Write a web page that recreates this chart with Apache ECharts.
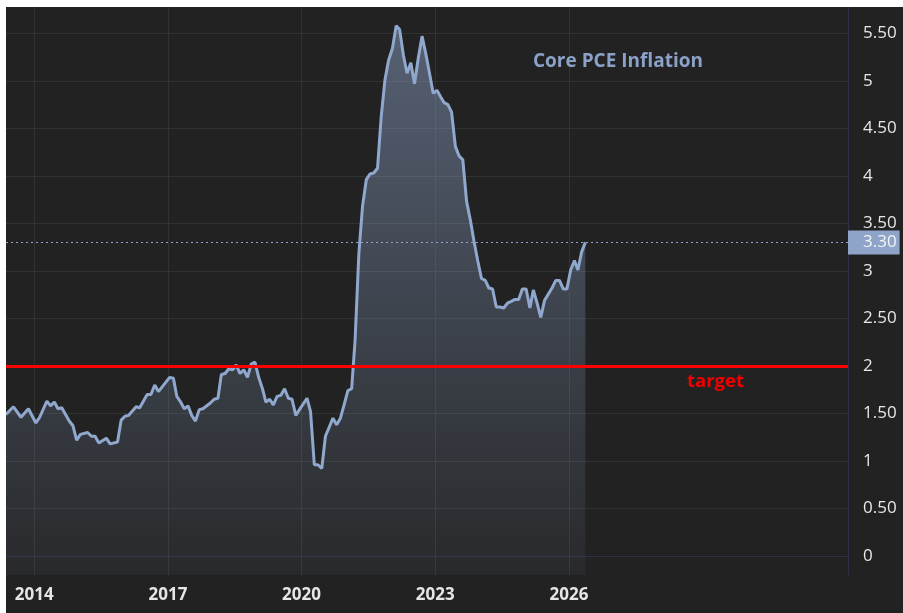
<!DOCTYPE html>
<html><head><meta charset="utf-8">
<script src="https://cdn.jsdelivr.net/npm/echarts@6/dist/echarts.min.js"></script>
<style>
html,body{margin:0;padding:0;background:#ffffff;}
#c{position:absolute;left:6px;top:7px;width:897px;height:606px;background:#222222;}
</style></head><body><div id="c"></div>
<script>
const months = [
'2013-05','2013-07','2013-09','2013-11','2014-01','2014-02','2014-04','2014-05','2014-06','2014-07','2014-08','2014-10','2014-11','2014-12',
'2015-01','2015-03','2015-04','2015-05','2015-06','2015-08','2015-09','2015-11','2015-12',
'2016-01','2016-02','2016-04','2016-05','2016-07','2016-08','2016-09','2016-10','2016-11',
'2017-01','2017-02','2017-03','2017-04','2017-05','2017-06','2017-07','2017-08','2017-09','2017-10','2017-12',
'2018-01','2018-02','2018-03','2018-04','2018-05','2018-06','2018-07','2018-08','2018-09','2018-10','2018-11','2018-12',
'2019-01','2019-02','2019-03','2019-04','2019-05','2019-06','2019-07','2019-08','2019-09','2019-10','2019-11','2019-12',
'2020-02','2020-03','2020-04','2020-05','2020-06','2020-07','2020-09','2020-10','2020-11','2020-12',
'2021-01','2021-02','2021-03','2021-04','2021-05','2021-06','2021-07','2021-08','2021-09','2021-10','2021-11','2021-12',
'2022-01','2022-02','2022-03','2022-04','2022-05','2022-06','2022-07','2022-08','2022-09','2022-10','2022-11','2022-12',
'2023-01','2023-02','2023-03','2023-04','2023-05','2023-06','2023-07','2023-08','2023-09','2023-10','2023-11','2023-12',
'2024-01','2024-02','2024-03','2024-04','2024-05','2024-06','2024-07','2024-08','2024-09','2024-10','2024-11','2024-12',
'2025-01','2025-02','2025-03','2025-04','2025-05','2025-06','2025-08','2025-09','2025-10','2025-11','2025-12',
'2026-01','2026-02','2026-03','2026-04','2026-05'
];
const values = [
1.49,1.57,1.46,1.55,1.40,1.46,1.63,1.58,1.62,1.55,1.56,1.42,1.37,1.22,
1.28,1.30,1.26,1.26,1.19,1.24,1.18,1.20,1.43,
1.47,1.48,1.57,1.56,1.70,1.70,1.80,1.73,1.78,
1.88,1.87,1.68,1.62,1.55,1.58,1.48,1.42,1.54,1.55,1.61,
1.65,1.66,1.91,1.92,1.97,1.96,2.01,1.92,1.96,1.88,2.02,2.04,
1.88,1.76,1.62,1.65,1.59,1.68,1.69,1.76,1.66,1.65,1.48,1.54,
1.66,1.52,0.96,0.96,0.92,1.26,1.45,1.38,1.45,1.59,
1.74,1.76,2.27,3.18,3.68,3.96,4.02,4.03,4.08,4.62,5.01,5.22,
5.34,5.58,5.54,5.27,5.08,5.19,4.97,5.24,5.47,5.29,5.08,4.87,
4.90,4.83,4.77,4.75,4.67,4.31,4.21,4.17,3.73,3.54,3.31,3.11,
2.92,2.90,2.82,2.81,2.62,2.62,2.61,2.66,2.68,2.70,2.70,2.81,
2.81,2.61,2.80,2.66,2.51,2.69,2.82,2.90,2.90,2.81,2.81,
3.01,3.11,3.01,3.20,3.30
];
const yTicks = [0,0.5,1,1.5,2,2.5,3,3.5,4,4.5,5,5.5];
const xTickYears = [2014,2017,2020,2023,2026];
const targetValue = 2;
const targetLabel = 'target';
const titleText = 'Core PCE Inflation';

const FONT = 'Open Sans';
const ts = (y, m, d) => new Date(y, m, d).getTime();
const xTicks = xTickYears.map(y => ts(y, 0, 1));
const seriesData = months.map((s, i) => {
  const [y, m] = s.split('-').map(Number);
  return [ts(y, m - 1, 15), values[i]];
});
const lastValue = values[values.length - 1];

const chart = echarts.init(document.getElementById('c'));
chart.setOption({
  backgroundColor: '#222222',
  animation: false,
  title: {
    text: titleText, left: 527, top: 45, padding: 0,
    textStyle: {color: '#8ba1c7', fontSize: 19, fontWeight: 'bold', fontFamily: FONT}
  },
  grid: {left: 0, top: 0, right: 55, bottom: 38},
  xAxis: {
    type: 'value',
    min: ts(2013, 4, 15),
    max: ts(2032, 3, 6),
    axisLine: {show: true, lineStyle: {color: '#30304a', width: 1}},
    axisTick: {show: false, customValues: xTicks},
    axisLabel: {
      customValues: xTicks,
      formatter: v => String(new Date(v).getFullYear()),
      color: '#e6e6e6', fontSize: 17, fontWeight: 'bold', fontFamily: FONT, margin: 12
    },
    splitLine: {show: true, lineStyle: {color: '#323232', width: 1}}
  },
  yAxis: {
    type: 'value', position: 'right',
    min: -0.2, max: 5.777,
    axisLine: {show: true, lineStyle: {color: '#30304a', width: 1}},
    axisTick: {show: false, customValues: yTicks},
    axisLabel: {
      customValues: yTicks,
      formatter: v => (Math.round(v) === v ? String(v) : v.toFixed(2)),
      color: '#e6e6e6', fontSize: 17, fontFamily: FONT, margin: 15
    },
    splitLine: {show: true, lineStyle: {color: '#323232', width: 1}}
  },
  series: [{
    type: 'line',
    data: seriesData,
    symbol: 'none',
    lineStyle: {color: '#90a8ce', width: 3},
    areaStyle: {
      origin: 'start',
      color: new echarts.graphic.LinearGradient(0, 0, 0, 1, [
        {offset: 0, color: 'rgba(143,166,204,0.68)'},
        {offset: 1, color: 'rgba(143,166,204,0.08)'}
      ])
    },
    markLine: {
      silent: true, symbol: 'none', animation: false,
      data: [
        {
          yAxis: targetValue,
          lineStyle: {color: '#ff0000', width: 3, type: 'solid'},
          label: {show: true, formatter: targetLabel, position: 'insideEndBottom', distance: [104, 6],
                  color: '#f00000', fontWeight: 'bold', fontSize: 18.5, fontFamily: FONT}
        },
        {
          yAxis: lastValue,
          lineStyle: {color: '#8ea6cc', width: 1, type: [2, 3]},
          label: {show: true, position: 'end', distance: 0, formatter: lastValue.toFixed(2),
                  backgroundColor: '#8ea4c8', color: '#f4f4f4', padding: [4, 3, 3, 15],
                  fontSize: 17, fontFamily: FONT}
        }
      ]
    }
  }]
});
</script>
</body></html>
